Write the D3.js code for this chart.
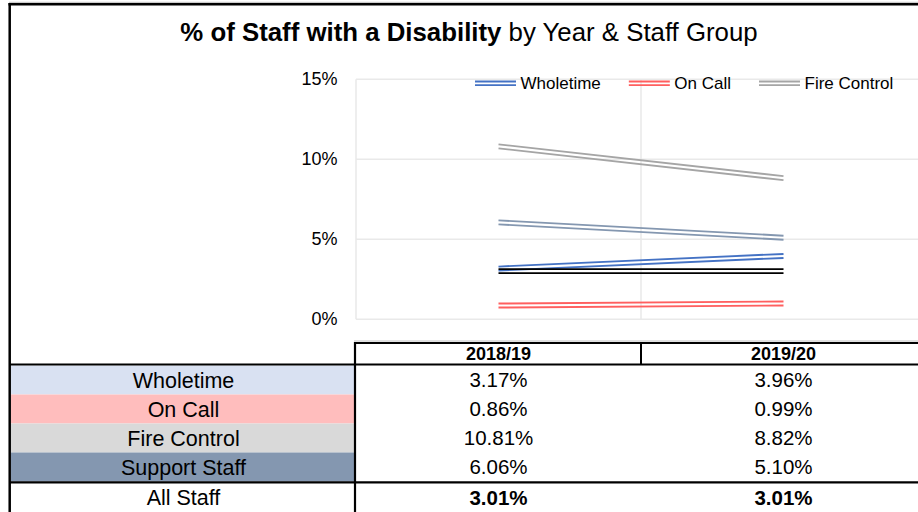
<!DOCTYPE html>
<html>
<head>
<meta charset="utf-8">
<script src="https://cdn.jsdelivr.net/npm/d3@7"></script>
<style>
  body { margin: 0; background: #fff; }
  svg { display: block; font-family: "Liberation Sans", Arial, sans-serif; }
</style>
</head>
<body>
<script>
// chart values
var years = ["2018/19", "2019/20"];
var groups = ["Wholetime", "On Call", "Fire Control", "Support Staff", "All Staff"];
var wholetime = [3.17, 3.96];
var onCall = [0.86, 0.99];
var fireControl = [10.81, 8.82];
var supportStaff = [6.06, 5.10];
var allStaff = [3.01, 3.01];
var yTicks = [0, 5, 10, 15];
var legendGroups = ["Wholetime", "On Call", "Fire Control"];

var seriesValues = [wholetime, onCall, fireControl, supportStaff, allStaff];
var lineColors = ["#4472C4", "#FF5F5F", "#A5A5A5", "#8497B0", "#000000"];
var rowFills = ["#D9E1F2", "#FFBDBD", "#D9D9D9", "#8497B0"];

var W = 918, H = 512;

var svg = d3.select("body").append("svg")
  .attr("width", W)
  .attr("height", H);

// scales
var x = d3.scaleBand().domain(years).range([356, 926]);
var y = d3.scaleLinear().domain([0, 15]).range([319.3, 79.3]);
var color = d3.scaleOrdinal().domain(groups).range(lineColors);

// outer frame (top + left)
svg.append("line").attr("x1", 9).attr("x2", W).attr("y1", 2.3).attr("y2", 2.3)
  .attr("stroke", "#BFBFBF").attr("stroke-width", 1);
svg.append("line").attr("x1", 8.5).attr("x2", W).attr("y1", 4.2).attr("y2", 4.2)
  .attr("stroke", "#000").attr("stroke-width", 2.4);
svg.append("line").attr("x1", 9.7).attr("x2", 9.7).attr("y1", 3).attr("y2", H)
  .attr("stroke", "#000").attr("stroke-width", 2.5);

// title
var title = svg.append("text")
  .attr("x", 469).attr("y", 41)
  .attr("text-anchor", "middle")
  .attr("font-size", "25.8px")
  .attr("fill", "#000");
title.append("tspan").attr("font-weight", "bold").text("% of Staff with a Disability");
title.append("tspan").text(" by Year & Staff Group");

// gridlines
svg.append("g")
  .selectAll("line")
  .data(yTicks)
  .enter().append("line")
    .attr("x1", x.range()[0]).attr("x2", W)
    .attr("y1", function(d){ return y(d); })
    .attr("y2", function(d){ return y(d); })
    .attr("stroke", "#E9E9E9").attr("stroke-width", 1.5);

svg.append("g")
  .selectAll("line")
  .data(years)
  .enter().append("line")
    .attr("x1", function(d){ return x(d); })
    .attr("x2", function(d){ return x(d); })
    .attr("y1", y(15)).attr("y2", y(0))
    .attr("stroke", "#E9E9E9").attr("stroke-width", 1.5);

// y tick labels
svg.append("g")
  .selectAll("text")
  .data(yTicks)
  .enter().append("text")
    .attr("x", 337.5)
    .attr("y", function(d){ return y(d); })
    .attr("dy", "0.33em")
    .attr("text-anchor", "end")
    .attr("font-size", "18px")
    .attr("fill", "#000")
    .text(function(d){ return d + "%"; });

// double lines (Excel compound line look)
var offsets = [-2, 2];
var lineGen = function(off) {
  return d3.line()
    .x(function(d, i){ return x(years[i]) + x.bandwidth() / 2; })
    .y(function(d){ return y(d) + off; });
};

var series = svg.append("g").selectAll("g")
  .data(groups)
  .enter().append("g");

series.each(function(name, gi) {
  var g = d3.select(this);
  offsets.forEach(function(off) {
    g.append("path")
      .attr("d", lineGen(off)(seriesValues[gi]))
      .attr("fill", "none")
      .attr("stroke", color(name))
      .attr("stroke-width", 1.9);
  });
});

// legend
var lx = 475, ly = 83.3;
legendGroups.forEach(function(name) {
  offsets.forEach(function(off) {
    svg.append("line")
      .attr("x1", lx).attr("x2", lx + 41)
      .attr("y1", ly + off * 0.9).attr("y2", ly + off * 0.9)
      .attr("stroke", color(name)).attr("stroke-width", 1.8);
  });
  var t = svg.append("text")
    .attr("x", lx + 45.5).attr("y", ly)
    .attr("dy", "0.35em")
    .attr("font-size", "17px")
    .attr("fill", "#000")
    .text(name);
  lx = lx + 45.5 + t.node().getComputedTextLength() + 28;
});

// data table
var rows = d3.scaleBand().domain(groups.slice(0, 4)).range([365.5, 481.5]);
var allTop = 482.5, allBottom = H;

// row fills for label column
svg.append("g")
  .selectAll("rect")
  .data(groups.slice(0, 4))
  .enter().append("rect")
    .attr("x", 11).attr("width", x.range()[0] - 12)
    .attr("y", function(d){ return rows(d); })
    .attr("height", rows.bandwidth())
    .attr("fill", function(d, i){ return rowFills[i]; });

// header
svg.append("line").attr("x1", x.range()[0] - 2).attr("x2", W).attr("y1", 341).attr("y2", 341)
  .attr("stroke", "#BFBFBF").attr("stroke-width", 1);
svg.append("line").attr("x1", x.range()[0] - 2).attr("x2", W).attr("y1", 343).attr("y2", 343)
  .attr("stroke", "#000").attr("stroke-width", 2);
svg.append("line").attr("x1", x(years[1])).attr("x2", x(years[1])).attr("y1", 342).attr("y2", 364.5)
  .attr("stroke", "#000").attr("stroke-width", 2);

svg.append("g")
  .selectAll("text")
  .data(years)
  .enter().append("text")
    .attr("x", function(d){ return x(d) + x.bandwidth() / 2; })
    .attr("y", 354)
    .attr("dy", "0.36em")
    .attr("text-anchor", "middle")
    .attr("font-size", "18px")
    .attr("font-weight", "bold")
    .attr("fill", "#000")
    .text(function(d){ return d; });

// label column
var labelX = (11 + x.range()[0]) / 2;
svg.append("g")
  .selectAll("text")
  .data(groups)
  .enter().append("text")
    .attr("x", labelX)
    .attr("y", function(d, i){ return i < 4 ? rows(d) + rows.bandwidth() / 2 : (allTop + allBottom) / 2; })
    .attr("dy", "0.36em")
    .attr("text-anchor", "middle")
    .attr("font-size", "21.5px")
    .attr("fill", "#000")
    .text(function(d){ return d; });

// values
groups.forEach(function(name, gi) {
  var cy = gi < 4 ? rows(name) + rows.bandwidth() / 2 : (allTop + allBottom) / 2;
  svg.append("g")
    .selectAll("text")
    .data(seriesValues[gi])
    .enter().append("text")
      .attr("x", function(d, i){ return x(years[i]) + x.bandwidth() / 2; })
      .attr("y", cy)
      .attr("dy", "0.36em")
      .attr("text-anchor", "middle")
      .attr("font-size", "20.5px")
      .attr("font-weight", gi === 4 ? "bold" : "normal")
      .attr("fill", "#000")
      .text(function(d){ return d.toFixed(2) + "%"; });
});

// table rules
svg.append("line").attr("x1", 9).attr("x2", W).attr("y1", 364.5).attr("y2", 364.5)
  .attr("stroke", "#000").attr("stroke-width", 2.2);
svg.append("line").attr("x1", 9).attr("x2", W).attr("y1", 482.3).attr("y2", 482.3)
  .attr("stroke", "#000").attr("stroke-width", 2.2);
svg.append("line").attr("x1", x.range()[0] - 1).attr("x2", x.range()[0] - 1).attr("y1", 342).attr("y2", H)
  .attr("stroke", "#000").attr("stroke-width", 2.2);
</script>
</body>
</html>
